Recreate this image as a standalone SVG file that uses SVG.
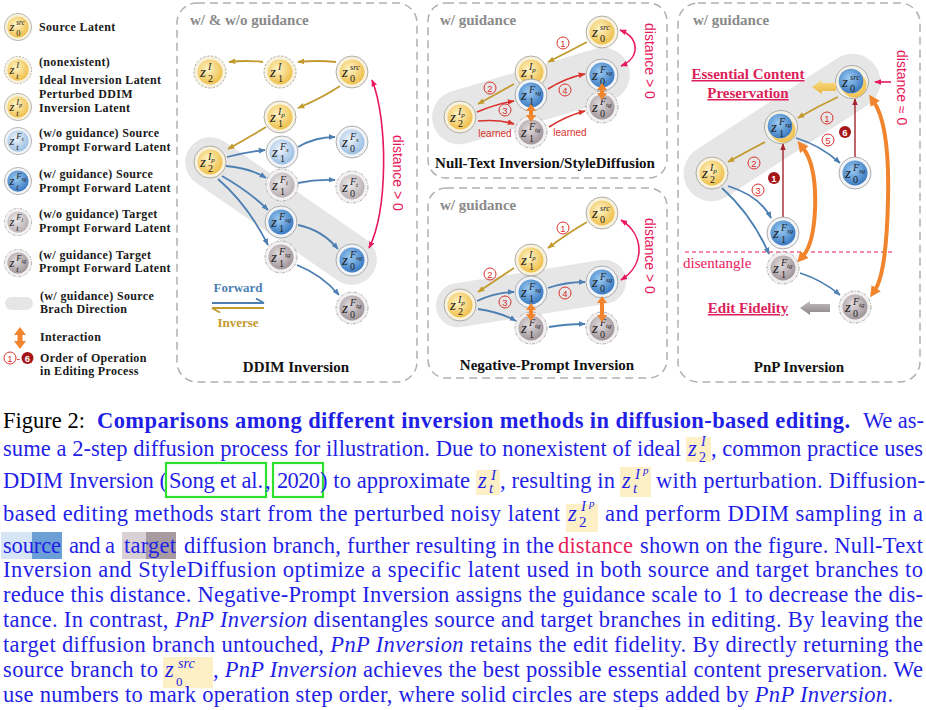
<svg xmlns="http://www.w3.org/2000/svg" width="926" height="710" viewBox="0 0 926 710">
<style>
.zl{font:italic 15px "Liberation Serif",serif;fill:#222}
.zs{font:10px "Liberation Serif",serif;fill:#222}
.zp{font:italic 10px "Liberation Serif",serif;fill:#222}
.zpp{font-size:7px}
.zsrc{font:italic 8.5px "Liberation Serif",serif;fill:#222}
.lg{font:bold 12px "Liberation Serif",serif;fill:#1a1a1a;letter-spacing:0.35px}
.pt{font:bold 15px "Liberation Serif",serif;fill:#8a8a8a}
.bt{font:bold 15px "Liberation Serif",serif;fill:#111;text-anchor:middle}
.panel{fill:#fff;stroke:#b0b0b0;stroke-width:1.5;stroke-dasharray:8 5}
.band{fill:#e6e6e6}
.ag{fill:none;stroke:#c39a2e;stroke-width:1.8;marker-end:url(#mG)}
.ab{fill:none;stroke:#4d7fb3;stroke-width:1.8;marker-end:url(#mB)}
.ar{fill:none;stroke:#d8322c;stroke-width:1.6;marker-end:url(#mR)}
.ap{fill:none;stroke:#e8185c;stroke-width:1.6;marker-start:url(#mP);marker-end:url(#mP)}
.ap1{fill:none;stroke:#e8185c;stroke-width:1.6;marker-end:url(#mP)}
.ad{fill:none;stroke:#a3242a;stroke-width:1.4;marker-end:url(#mD)}
.ao{fill:none;stroke:#f0852d;stroke-width:4;marker-start:url(#mO);marker-end:url(#mO)}
.ob{fill:#f0852d}
.dist{font:14px "Liberation Sans",sans-serif;fill:#e8185c}
.cn circle{fill:none;stroke:#d8322c;stroke-width:1}
.cn text{font:9.5px "Liberation Sans",sans-serif;fill:#d8322c;text-anchor:middle}
.cf circle{fill:#a51515}
.cf text{font:bold 9.5px "Liberation Sans",sans-serif;fill:#fff;text-anchor:middle}
.learn{font:10px "Liberation Sans",sans-serif;fill:#d8322c;text-anchor:middle}
.em{font:bold 15px "Liberation Serif",serif;fill:#dc1f5a;text-anchor:middle;text-decoration:underline}
.cap{font:22.5px "Liberation Serif",serif;fill:#1f1fe6}
.capb{font-weight:bold}
.it{font-style:italic}
.hl{fill:#fdefc6}
.mz{font:italic 22.5px "Liberation Serif",serif;fill:#1f1fe6}
.mi{font:italic 15px "Liberation Serif",serif;fill:#1f1fe6}
.mn{font:normal 15px "Liberation Serif",serif;fill:#1f1fe6}
.mpp{font:italic 11px "Liberation Serif",serif;fill:#1f1fe6}
.gb{fill:none;stroke:#2fe02f;stroke-width:2.2}
</style>
<defs>
<radialGradient id="gY" cx="0.42" cy="0.38" r="0.65"><stop offset="0" stop-color="#fff4c8"/><stop offset="1" stop-color="#eebd45"/></radialGradient>
<radialGradient id="gLB" cx="0.42" cy="0.38" r="0.65"><stop offset="0" stop-color="#eef5fc"/><stop offset="1" stop-color="#98bce2"/></radialGradient>
<radialGradient id="gB" cx="0.42" cy="0.38" r="0.65"><stop offset="0" stop-color="#9ccbf2"/><stop offset="1" stop-color="#3677c0"/></radialGradient>
<radialGradient id="gT" cx="0.42" cy="0.38" r="0.65"><stop offset="0" stop-color="#e2dcde"/><stop offset="1" stop-color="#9d9297"/></radialGradient>
<radialGradient id="gTl" cx="0.42" cy="0.38" r="0.65"><stop offset="0" stop-color="#ece8ea"/><stop offset="1" stop-color="#b6adb1"/></radialGradient>
<linearGradient id="gGr" x1="0" y1="0" x2="0" y2="1"><stop offset="0" stop-color="#c4bec0"/><stop offset="1" stop-color="#8c8487"/></linearGradient>
<linearGradient id="gYa" x1="0" y1="0" x2="0" y2="1"><stop offset="0" stop-color="#fbe08a"/><stop offset="1" stop-color="#e9b43a"/></linearGradient>
<g id="nY"><circle r="16" fill="#f8f1dc" stroke="#9a9a9a" stroke-width="0.8"/><circle r="12.5" fill="url(#gY)"/></g>
<g id="nYd"><circle r="16" fill="#f8f1dc" stroke="#9a9a9a" stroke-width="0.8" stroke-dasharray="2.5 1.5"/><circle r="12.5" fill="url(#gY)"/></g>
<g id="nLB"><circle r="16" fill="#f1f3f6" stroke="#9a9a9a" stroke-width="0.8"/><circle r="12.5" fill="url(#gLB)"/></g>
<g id="nB"><circle r="16" fill="#f1f3f6" stroke="#9a9a9a" stroke-width="0.8"/><circle r="12.5" fill="url(#gB)"/></g>
<g id="nT"><circle r="16" fill="#f1efef" stroke="#9a9a9a" stroke-width="0.8" stroke-dasharray="3 1.5 1 1.5"/><circle r="12.5" fill="url(#gT)"/></g>
<g id="nTl"><circle r="16" fill="#f3f1f1" stroke="#9a9a9a" stroke-width="0.8" stroke-dasharray="3 1.5 1 1.5"/><circle r="12.5" fill="url(#gTl)"/></g>
<g id="nPB"><circle r="16.5" fill="#f3f0e6" stroke="#9a9a9a" stroke-width="0.8"/><circle cx="2" cy="3" r="12.5" fill="url(#gY)"/><circle cx="-1" cy="-1" r="12.3" fill="url(#gB)"/></g>
<marker id="mG" viewBox="0 0 10 10" refX="9" refY="5" markerWidth="7" markerHeight="7" markerUnits="userSpaceOnUse" orient="auto-start-reverse"><path d="M0,1 L10,5 L0,9 z" fill="#c39a2e"/></marker>
<marker id="mB" viewBox="0 0 10 10" refX="9" refY="5" markerWidth="7" markerHeight="7" markerUnits="userSpaceOnUse" orient="auto-start-reverse"><path d="M0,1 L10,5 L0,9 z" fill="#4d7fb3"/></marker>
<marker id="mR" viewBox="0 0 10 10" refX="9" refY="5" markerWidth="7" markerHeight="7" markerUnits="userSpaceOnUse" orient="auto-start-reverse"><path d="M0,1 L10,5 L0,9 z" fill="#d8322c"/></marker>
<marker id="mP" viewBox="0 0 10 10" refX="9" refY="5" markerWidth="7" markerHeight="7" markerUnits="userSpaceOnUse" orient="auto-start-reverse"><path d="M0,1 L10,5 L0,9 z" fill="#e8185c"/></marker>
<marker id="mD" viewBox="0 0 10 10" refX="9" refY="5" markerWidth="7" markerHeight="7" markerUnits="userSpaceOnUse" orient="auto-start-reverse"><path d="M0,1 L10,5 L0,9 z" fill="#a3242a"/></marker>
<marker id="mO" viewBox="0 0 10 10" refX="2" refY="5" markerWidth="11" markerHeight="11" markerUnits="userSpaceOnUse" orient="auto-start-reverse"><path d="M0,0 L10,5 L0,10 z" fill="#f0852d"/></marker>
</defs>
<rect width="926" height="710" fill="#fff"/>

<!-- Legend -->
<g id="legend">
<g id="lg-src" transform="translate(18,27) scale(0.85)"><use href="#nY"/><text class="zl" x="-10" y="5">z</text><text class="zs" x="-2" y="10">0</text><text class="zsrc" x="-2" y="-2">src</text></g>
<text class="lg" x="39" y="31">Source Latent</text>
<g id="lg-ideal" transform="translate(18,70) scale(0.85)"><use href="#nYd"/><text class="zl" x="-10" y="5">z</text><text class="zp" x="-2" y="10">t</text><text class="zp" x="-2" y="-2">I</text></g>
<text class="lg" x="39" y="66">(nonexistent)</text><text class="lg" x="39" y="84">Ideal Inversion Latent</text>
<g id="lg-pert" transform="translate(18,107) scale(0.85)"><use href="#nY"/><text class="zl" x="-10" y="5">z</text><text class="zp" x="-2" y="10">t</text><text class="zp" x="-2" y="-2">I<tspan class="zpp" dy="2">p</tspan></text></g>
<text class="lg" x="39" y="98">Perturbed DDIM</text><text class="lg" x="39" y="112">Inversion Latent</text>
<g id="lg-fs" transform="translate(18,141) scale(0.85)"><use href="#nLB"/><text class="zl" x="-10" y="5">z</text><text class="zp" x="-2" y="10">t</text><text class="zp" x="-2" y="-2">F<tspan class="zpp" dy="2">s</tspan></text></g>
<text class="lg" x="39" y="137">(w/o guidance) Source</text><text class="lg" x="39" y="151">Prompt Forward Latent</text>
<g id="lg-fsg" transform="translate(18,181) scale(0.85)"><use href="#nB"/><text class="zl" x="-10" y="5">z</text><text class="zp" x="-2" y="10">t</text><text class="zp" x="-2" y="-2">F<tspan class="zpp" dy="2">sg</tspan></text></g>
<text class="lg" x="39" y="178">(w/ guidance) Source</text><text class="lg" x="39" y="192">Prompt Forward Latent</text>
<g id="lg-ft" transform="translate(18,222) scale(0.85)"><use href="#nTl"/><text class="zl" x="-10" y="5">z</text><text class="zp" x="-2" y="10">t</text><text class="zp" x="-2" y="-2">F<tspan class="zpp" dy="2">t</tspan></text></g>
<text class="lg" x="39" y="218">(w/o guidance) Target</text><text class="lg" x="39" y="232">Prompt Forward Latent</text>
<g id="lg-ftg" transform="translate(18,263) scale(0.85)"><use href="#nT"/><text class="zl" x="-10" y="5">z</text><text class="zp" x="-2" y="10">t</text><text class="zp" x="-2" y="-2">F<tspan class="zpp" dy="2">tg</tspan></text></g>
<text class="lg" x="39" y="259">(w/ guidance) Target</text><text class="lg" x="39" y="272">Prompt Forward Latent</text>
<rect class="band" x="5" y="297" width="28" height="13" rx="6.5"/>
<text class="lg" x="40" y="300">(w/ guidance) Source</text><text class="lg" x="40" y="313">Brach Direction</text>
<polygon class="ob" points="20,327 26,335 22.5,335 22.5,341 26,341 20,349 14,341 17.5,341 17.5,335 14,335"/>
<text class="lg" x="40" y="341">Interaction</text>
<g class="cn" transform="translate(10,358)"><circle r="6"/><text y="3.5">1</text></g>
<text x="16.5" y="362" style="font:11px 'Liberation Sans',sans-serif;fill:#d8322c">-</text>
<g class="cf" transform="translate(27.5,358)"><circle r="6"/><text y="3.5">6</text></g>
<text class="lg" x="40" y="362">Order of Operation</text><text class="lg" x="40" y="375">in Editing Process</text>
</g>

<!-- Panels -->
<rect class="panel" x="177" y="3" width="240" height="379" rx="20"/>
<rect class="panel" x="428" y="3" width="239" height="175" rx="18"/>
<rect class="panel" x="428" y="188" width="239" height="190" rx="18"/>
<rect class="panel" x="678" y="3" width="242" height="379" rx="20"/>
<text class="pt" x="190" y="25">w/ &amp; w/o guidance</text>
<text class="pt" x="440" y="25">w/ guidance</text>
<text class="pt" x="440" y="210">w/ guidance</text>
<text class="pt" x="693" y="25">w/ guidance</text>
<text class="bt" x="296" y="372">DDIM Inversion</text>
<text class="bt" x="545" y="168">Null-Text Inversion/StyleDiffusion</text>
<text class="bt" x="547" y="370">Negative-Prompt Inversion</text>
<text class="bt" x="799" y="372">PnP Inversion</text>

<!-- bands -->
<rect class="band" x="-111" y="-25" width="222" height="50" rx="25" transform="translate(281,211) rotate(34.6)"/>
<rect class="band" x="-102" y="-27" width="204" height="54" rx="27" transform="translate(531,96) rotate(-16.5)"/>
<rect class="band" x="-96" y="-22" width="192" height="44" rx="22" transform="translate(531,293.5) rotate(-9.2)"/>
<rect class="band" x="-112" y="-28" width="224" height="56" rx="28" transform="translate(782,127.5) rotate(-33)"/>

<!-- Connectors -->
<g id="connectors">
<path class="ag" d="M336,62 Q318,60 298,62"/>
<path class="ag" d="M263,62 Q246,60 229,62"/>
<path class="ag" d="M340,86 Q322,98 298,108"/>
<path class="ag" d="M266,127 Q248,138 228,149"/>
<path class="ab" d="M227,157 Q246,152 265,150"/>
<path class="ab" d="M226,166 Q250,168 266,178"/>
<path class="ab" d="M222,176 Q250,192 268,210"/>
<path class="ab" d="M218,179 Q248,205 268,245"/>
<path class="ab" d="M298,147 Q315,137 335,137"/>
<path class="ab" d="M298,183 Q316,179 335,180"/>
<path class="ab" d="M298,225 Q322,230 338,249"/>
<path class="ab" d="M297,265 Q322,275 339,295"/>
<path class="ap" d="M369,248 C388,210 388,120 372,80"/>
<path d="M212,303 H264 M264,303 L256,298.5" fill="none" stroke="#4d7fb3" stroke-width="2"/>
<path d="M212,308 H264 M212,308 L220,312.5" fill="none" stroke="#c39a2e" stroke-width="2"/>

<path class="ag" d="M587,42 Q568,52 548,62"/>
<path class="ag" d="M514,84 Q496,94 478,104"/>
<path class="ar" d="M477,112 Q496,104 514,101"/>
<path class="ar" d="M478,121 Q498,119 514,124"/>
<path class="ar" d="M548,89 Q565,78 585,74"/>
<path class="ar" d="M549,127 Q566,116 585,111"/>
<path class="ap" d="M620,30 C640,38 640,58 621,66"/>

<path class="ag" d="M587,222 Q568,233 548,248"/>
<path class="ag" d="M514,268 Q496,280 478,292"/>
<path class="ab" d="M477,301 Q496,292 514,292"/>
<path class="ab" d="M478,309 Q500,312 516,321"/>
<path class="ab" d="M548,288 Q565,282 585,282"/>
<path class="ab" d="M549,327 Q566,324 585,324"/>
<path class="ap" d="M621,220 C645,235 645,265 621,280"/>

<path class="ag" d="M838,97 Q818,106 798,118"/>
<path class="ag" d="M765,142 Q746,152 728,162"/>
<path class="ab" d="M796,138 Q820,145 840,163"/>
<path class="ab" d="M728,186 Q760,196 771,218"/>
<path class="ab" d="M722,188 Q752,215 769,254"/>
<path class="ab" d="M800,273 Q822,280 840,295"/>
<path class="ad" d="M783,218 L783,144"/>
<path class="ad" d="M855,157 L855,99"/>
<path class="ap1" d="M891,82 L875,82"/>
<path d="M685,252 L892,252" fill="none" stroke="#e8185c" stroke-width="1.2" stroke-dasharray="4 3"/>
</g>

<!-- DDIM nodes -->
<g id="d-z2i" transform="translate(210,72)"><use href="#nYd"/><text class="zl" x="-10" y="5">z</text><text class="zs" x="-2" y="10">2</text><text class="zp" x="-2" y="-2">I</text></g>
<g id="d-z1i" transform="translate(280,72)"><use href="#nYd"/><text class="zl" x="-10" y="5">z</text><text class="zs" x="-2" y="10">1</text><text class="zp" x="-2" y="-2">I</text></g>
<g id="d-z0src" transform="translate(352,72)"><use href="#nY"/><text class="zl" x="-10" y="5">z</text><text class="zs" x="-2" y="10">0</text><text class="zsrc" x="-2" y="-2">src</text></g>
<g id="d-z1ip" transform="translate(280,117)"><use href="#nY"/><text class="zl" x="-10" y="5">z</text><text class="zs" x="-2" y="10">1</text><text class="zp" x="-2" y="-2">I<tspan class="zpp" dy="2">p</tspan></text></g>
<g id="d-z2ip" transform="translate(210,162)"><use href="#nY"/><text class="zl" x="-10" y="5">z</text><text class="zs" x="-2" y="10">2</text><text class="zp" x="-2" y="-2">I<tspan class="zpp" dy="2">p</tspan></text></g>
<g id="d-z1fs" transform="translate(282,152)"><use href="#nLB"/><text class="zl" x="-10" y="5">z</text><text class="zs" x="-2" y="10">1</text><text class="zp" x="-2" y="-2">F<tspan class="zpp" dy="2">s</tspan></text></g>
<g id="d-z0fs" transform="translate(352,142)"><use href="#nLB"/><text class="zl" x="-10" y="5">z</text><text class="zs" x="-2" y="10">0</text><text class="zp" x="-2" y="-2">F<tspan class="zpp" dy="2">s</tspan></text></g>
<g id="d-z1ft" transform="translate(282,185)"><use href="#nTl"/><text class="zl" x="-10" y="5">z</text><text class="zs" x="-2" y="10">1</text><text class="zp" x="-2" y="-2">F<tspan class="zpp" dy="2">t</tspan></text></g>
<g id="d-z0ft" transform="translate(352,187)"><use href="#nTl"/><text class="zl" x="-10" y="5">z</text><text class="zs" x="-2" y="10">0</text><text class="zp" x="-2" y="-2">F<tspan class="zpp" dy="2">t</tspan></text></g>
<g id="d-z1fsg" transform="translate(281,222)"><use href="#nB"/><text class="zl" x="-10" y="5">z</text><text class="zs" x="-2" y="10">1</text><text class="zp" x="-2" y="-2">F<tspan class="zpp" dy="2">sg</tspan></text></g>
<g id="d-z1ftg" transform="translate(281,257)"><use href="#nT"/><text class="zl" x="-10" y="5">z</text><text class="zs" x="-2" y="10">1</text><text class="zp" x="-2" y="-2">F<tspan class="zpp" dy="2">tg</tspan></text></g>
<g id="d-z0fsg" transform="translate(352,260)"><use href="#nB"/><text class="zl" x="-10" y="5">z</text><text class="zs" x="-2" y="10">0</text><text class="zp" x="-2" y="-2">F<tspan class="zpp" dy="2">sg</tspan></text></g>
<g id="d-z0ftg" transform="translate(352,308)"><use href="#nT"/><text class="zl" x="-10" y="5">z</text><text class="zs" x="-2" y="10">0</text><text class="zp" x="-2" y="-2">F<tspan class="zpp" dy="2">tg</tspan></text></g>
<text class="dist" transform="translate(393,135) rotate(90)">distance &gt; 0</text>
<text x="238" y="292" text-anchor="middle" style="font:bold 13px 'Liberation Serif',serif;fill:#4d7fb3">Forward</text>
<text x="238" y="327" text-anchor="middle" style="font:bold 13px 'Liberation Serif',serif;fill:#c39a2e">Inverse</text>

<!-- Null-text nodes -->
<g id="n-z0src" transform="translate(602,32)"><use href="#nY"/><text class="zl" x="-10" y="5">z</text><text class="zs" x="-2" y="10">0</text><text class="zsrc" x="-2" y="-2">src</text></g>
<g id="n-z1ip" transform="translate(531,72)"><use href="#nY"/><text class="zl" x="-10" y="5">z</text><text class="zs" x="-2" y="10">1</text><text class="zp" x="-2" y="-2">I<tspan class="zpp" dy="2">p</tspan></text></g>
<g id="n-z1fsg" transform="translate(531,95)"><use href="#nB"/><text class="zl" x="-10" y="5">z</text><text class="zs" x="-2" y="10">1</text><text class="zp" x="-2" y="-2">F<tspan class="zpp" dy="2">sg</tspan></text></g>
<g id="n-z0fsg" transform="translate(602,75)"><use href="#nB"/><text class="zl" x="-10" y="5">z</text><text class="zs" x="-2" y="10">0</text><text class="zp" x="-2" y="-2">F<tspan class="zpp" dy="2">sg</tspan></text></g>
<g id="n-z0ftg" transform="translate(602,107)"><use href="#nT"/><text class="zl" x="-10" y="5">z</text><text class="zs" x="-2" y="10">0</text><text class="zp" x="-2" y="-2">F<tspan class="zpp" dy="2">tg</tspan></text></g>
<g id="n-z1ftg" transform="translate(531,132)"><use href="#nT"/><text class="zl" x="-10" y="5">z</text><text class="zs" x="-2" y="10">1</text><text class="zp" x="-2" y="-2">F<tspan class="zpp" dy="2">tg</tspan></text></g>
<g id="n-z2ip" transform="translate(460,117)"><use href="#nY"/><text class="zl" x="-10" y="5">z</text><text class="zs" x="-2" y="10">2</text><text class="zp" x="-2" y="-2">I<tspan class="zpp" dy="2">p</tspan></text></g>
<polygon class="ob" points="531,104 536,111 533,111 533,115 536,115 531,122 526,115 529,115 529,111 526,111"/>
<polygon class="ob" points="602,83 607,90 604,90 604,93 607,93 602,100 597,93 600,93 600,90 597,90"/>
<g class="cn" transform="translate(563,43)"><circle r="6"/><text y="3.5">1</text></g>
<g class="cn" transform="translate(490,88)"><circle r="6"/><text y="3.5">2</text></g>
<g class="cn" transform="translate(505,110)"><circle r="6"/><text y="3.5">3</text></g>
<g class="cn" transform="translate(565,90)"><circle r="6"/><text y="3.5">4</text></g>
<text class="learn" x="495" y="137">learned</text>
<text class="learn" x="570" y="136">learned</text>
<text class="dist" transform="translate(645,23) rotate(90)">distance &gt; 0</text>

<!-- Negative-prompt nodes -->
<g id="g-z0src" transform="translate(602,213)"><use href="#nY"/><text class="zl" x="-10" y="5">z</text><text class="zs" x="-2" y="10">0</text><text class="zsrc" x="-2" y="-2">src</text></g>
<g id="g-z1ip" transform="translate(531,260)"><use href="#nY"/><text class="zl" x="-10" y="5">z</text><text class="zs" x="-2" y="10">1</text><text class="zp" x="-2" y="-2">I<tspan class="zpp" dy="2">p</tspan></text></g>
<g id="g-z1fsg" transform="translate(531,292)"><use href="#nB"/><text class="zl" x="-10" y="5">z</text><text class="zs" x="-2" y="10">1</text><text class="zp" x="-2" y="-2">F<tspan class="zpp" dy="2">sg</tspan></text></g>
<g id="g-z0fsg" transform="translate(602,282)"><use href="#nB"/><text class="zl" x="-10" y="5">z</text><text class="zs" x="-2" y="10">0</text><text class="zp" x="-2" y="-2">F<tspan class="zpp" dy="2">sg</tspan></text></g>
<g id="g-z1ftg" transform="translate(531,328)"><use href="#nT"/><text class="zl" x="-10" y="5">z</text><text class="zs" x="-2" y="10">1</text><text class="zp" x="-2" y="-2">F<tspan class="zpp" dy="2">tg</tspan></text></g>
<g id="g-z0ftg" transform="translate(602,328)"><use href="#nT"/><text class="zl" x="-10" y="5">z</text><text class="zs" x="-2" y="10">0</text><text class="zp" x="-2" y="-2">F<tspan class="zpp" dy="2">tg</tspan></text></g>
<g id="g-z2ip" transform="translate(460,305)"><use href="#nY"/><text class="zl" x="-10" y="5">z</text><text class="zs" x="-2" y="10">2</text><text class="zp" x="-2" y="-2">I<tspan class="zpp" dy="2">p</tspan></text></g>
<polygon class="ob" points="531,303 536,310 533,310 533,314 536,314 531,321 526,314 529,314 529,310 526,310"/>
<polygon class="ob" points="602,296 607,303 604,303 604,315 607,315 602,322 597,315 600,315 600,303 597,303"/>
<g class="cn" transform="translate(563,228)"><circle r="6"/><text y="3.5">1</text></g>
<g class="cn" transform="translate(490,274)"><circle r="6"/><text y="3.5">2</text></g>
<g class="cn" transform="translate(505,302)"><circle r="6"/><text y="3.5">3</text></g>
<g class="cn" transform="translate(565,293)"><circle r="6"/><text y="3.5">4</text></g>
<text class="dist" transform="translate(645,218) rotate(90)">distance &gt; 0</text>

<!-- PnP nodes -->
<path class="ao" d="M803,148 C814,162 816,185 815,210 C814,232 810,248 803,256"/>
<path class="ao" d="M874,102 C886,120 889,160 888,200 C887,245 883,278 875,290"/>
<g id="p-z0src" transform="translate(852,82)"><use href="#nPB"/><text class="zl" x="-10" y="5">z</text><text class="zs" x="-2" y="10">0</text><text class="zsrc" x="-2" y="-2">src</text></g>
<g id="p-z1fsg" transform="translate(781,127)"><use href="#nPB"/><text class="zl" x="-10" y="5">z</text><text class="zs" x="-2" y="10">1</text><text class="zp" x="-2" y="-2">F<tspan class="zpp" dy="2">sg</tspan></text></g>
<g id="p-z2ip" transform="translate(712,173)"><use href="#nY"/><text class="zl" x="-10" y="5">z</text><text class="zs" x="-2" y="10">2</text><text class="zp" x="-2" y="-2">I<tspan class="zpp" dy="2">p</tspan></text></g>
<g id="p-z0fsg" transform="translate(855,173)"><use href="#nB"/><text class="zl" x="-10" y="5">z</text><text class="zs" x="-2" y="10">0</text><text class="zp" x="-2" y="-2">F<tspan class="zpp" dy="2">sg</tspan></text></g>
<g id="p-z1fsgb" transform="translate(783,233)"><use href="#nB"/><text class="zl" x="-10" y="5">z</text><text class="zs" x="-2" y="10">1</text><text class="zp" x="-2" y="-2">F<tspan class="zpp" dy="2">sg</tspan></text></g>
<g id="p-z1ftg" transform="translate(783,268)"><use href="#nT"/><text class="zl" x="-10" y="5">z</text><text class="zs" x="-2" y="10">1</text><text class="zp" x="-2" y="-2">F<tspan class="zpp" dy="2">tg</tspan></text></g>
<g id="p-z0ftg" transform="translate(855,307)"><use href="#nT"/><text class="zl" x="-10" y="5">z</text><text class="zs" x="-2" y="10">0</text><text class="zp" x="-2" y="-2">F<tspan class="zpp" dy="2">tg</tspan></text></g>
<g class="cn" transform="translate(827,118)"><circle r="6"/><text y="3.5">1</text></g>
<g class="cn" transform="translate(828,140)"><circle r="6"/><text y="3.5">5</text></g>
<g class="cn" transform="translate(754,163)"><circle r="6"/><text y="3.5">2</text></g>
<g class="cn" transform="translate(758,190)"><circle r="6"/><text y="3.5">3</text></g>
<g class="cf" transform="translate(774,178)"><circle r="6"/><text y="3.5">1</text></g>
<g class="cf" transform="translate(845,132)"><circle r="6"/><text y="3.5">6</text></g>
<polygon points="812,87 822,80 822,83 836,83 836,91 822,91 822,94" fill="url(#gYa)"/>
<polygon points="800,308 810,301 810,304 830,304 830,312 810,312 810,315" fill="url(#gGr)"/>
<text class="em" x="748" y="79">Essential Content</text>
<text class="em" x="748" y="98">Preservation</text>
<text class="em" x="748" y="313">Edit Fidelity</text>
<text x="683" y="268" style="font:15px 'Liberation Serif',serif;fill:#e8185c">disentangle</text>
<text class="dist" transform="translate(897,50) rotate(90)">distance ≈ 0</text>

<!-- Caption -->
<g id="caption">
<text class="cap" x="3" y="428" style="fill:#000" textLength="82">Figure 2:</text>
<text class="cap capb" x="97" y="428" textLength="753">Comparisons among different inversion methods in diffusion-based editing.</text>
<text class="cap" x="863" y="428" textLength="61">We as-</text>

<text class="cap" x="3" y="456" textLength="678">sume a 2-step diffusion process for illustration. Due to nonexistent of ideal</text>
<rect class="hl" x="686" y="437" width="25" height="25"/>
<text class="mz" x="688" y="456">z<tspan class="mn" x="699" y="462" style="font-size:14px">2</tspan><tspan class="mi" x="701" y="446" style="font-size:14px">I</tspan></text>
<text class="cap" x="711" y="456" textLength="212">, common practice uses</text>

<text class="cap" x="3" y="488" textLength="164">DDIM Inversion (</text>
<rect class="gb" x="166" y="463" width="100" height="34"/>
<text class="cap" x="169" y="488" textLength="94">Song et al.</text>
<text class="cap" x="265" y="488">,</text>
<rect class="gb" x="273" y="463" width="50" height="34"/>
<text class="cap" x="277" y="488" textLength="43">2020</text>
<text class="cap" x="320" y="488" textLength="150">) to approximate</text>
<rect class="hl" x="476" y="470" width="24" height="25"/>
<text class="mz" x="478" y="488">z<tspan class="mi" x="489" y="493">t</tspan><tspan class="mi" x="491" y="480">I</tspan></text>
<text class="cap" x="500" y="488" textLength="115">, resulting in</text>
<rect class="hl" x="620" y="467" width="31" height="30"/>
<text class="mz" x="622" y="488">z<tspan class="mi" x="633" y="493">t</tspan><tspan class="mi" x="635" y="479">I</tspan><tspan class="mpp" x="643" y="474">p</tspan></text>
<text class="cap" x="656" y="488" textLength="269">with perturbation. Diffusion-</text>

<text class="cap" x="3" y="521" textLength="557">based editing methods start from the perturbed noisy latent</text>
<rect class="hl" x="566" y="504" width="32" height="28"/>
<text class="mz" x="568" y="521">z<tspan class="mn" x="579" y="527">2</tspan><tspan class="mi" x="581" y="511">I</tspan><tspan class="mpp" x="589" y="507">p</tspan></text>
<text class="cap" x="605" y="521" textLength="318">and perform DDIM sampling in a</text>

<rect x="1" y="532" width="31" height="27" fill="#d7e6f6"/>
<rect x="32" y="532" width="30" height="27" fill="#6c9fd6"/>
<rect x="122" y="532" width="24" height="27" fill="#d8d0d4"/>
<rect x="146" y="532" width="30" height="27" fill="#a79aa1"/>
<text class="cap" x="3" y="553" textLength="58">source</text>
<text class="cap" x="69" y="553" textLength="46">and a</text>
<text class="cap" x="124" y="553" textLength="52">target</text>
<text class="cap" x="184" y="553" textLength="370">diffusion branch, further resulting in the</text>
<text class="cap" x="558" y="553" textLength="75" style="fill:#e6245a">distance</text>
<text class="cap" x="640" y="553" textLength="283">shown on the figure. Null-Text</text>

<text class="cap" x="3" y="577" textLength="920">Inversion and StyleDiffusion optimize a specific latent used in both source and target branches to</text>
<text class="cap" x="3" y="602" textLength="920">reduce this distance. Negative-Prompt Inversion assigns the guidance scale to 1 to decrease the dis-</text>
<text class="cap" x="3" y="627" textLength="920">tance. In contrast, <tspan class="it">PnP Inversion</tspan> disentangles source and target branches in editing. By leaving the</text>
<text class="cap" x="3" y="652" textLength="920">target diffusion branch untouched, <tspan class="it">PnP Inversion</tspan> retains the edit fidelity. By directly returning the</text>
<text class="cap" x="3" y="677" textLength="155">source branch to</text>
<rect class="hl" x="163" y="657" width="50" height="31"/>
<text class="mz" x="165" y="677">z<tspan class="mn" x="176" y="686" style="font-size:13px">0</tspan><tspan class="mi" x="178" y="668" style="font-size:14px">src</tspan></text>
<text class="cap" x="213" y="677" textLength="710">, <tspan class="it">PnP Inversion</tspan> achieves the best possible essential content preservation. We</text>
<text class="cap" x="3" y="702" textLength="890">use numbers to mark operation step order, where solid circles are steps added by <tspan class="it">PnP Inversion</tspan>.</text>
</g>
</svg>
